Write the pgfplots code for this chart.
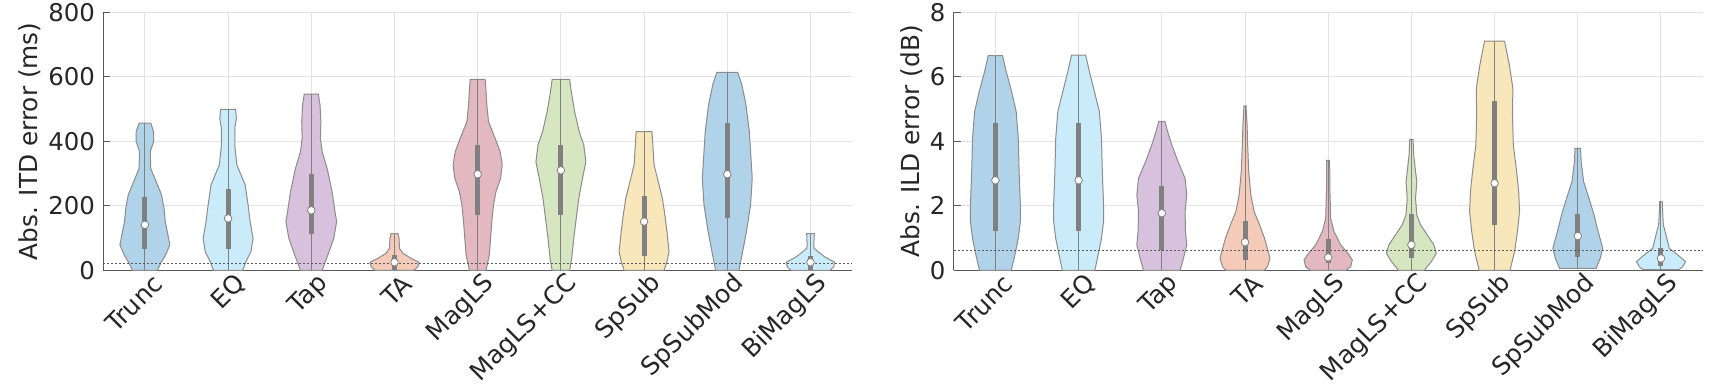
\documentclass[border=0pt]{standalone}
\usepackage{fontspec}
\setmainfont{DejaVu Sans}
\usepackage{pgfplots}
\usepackage{pgfplotstable}
\pgfplotsset{compat=1.18}

\definecolor{cBlue}{HTML}{B1D3EA}
\definecolor{cCyan}{HTML}{C9EBFA}
\definecolor{cPurple}{HTML}{D8C1DD}
\definecolor{cOrange}{HTML}{F4CAB8}
\definecolor{cRed}{HTML}{E3B8C1}
\definecolor{cGreen}{HTML}{D6E6C1}
\definecolor{cYellow}{HTML}{F9E7BC}
\definecolor{vedge}{HTML}{8C8C8C}
\definecolor{bgray}{HTML}{808080}
\definecolor{axgray}{HTML}{5A5A5A}
\definecolor{txt}{HTML}{262626}
\definecolor{gridc}{HTML}{E3E3E3}

% ---------------- ITD violins (y = value, w = half width) ----------------
\pgfplotstableread{
y w
0 0
0 0.15
22 0.19
48 0.25
79 0.30
99 0.285
151 0.245
192 0.23
234 0.20
275 0.135
316 0.07
368 0.065
399 0.105
430 0.105
456 0.07
456 0
}\iA
\pgfplotstableread{
y w
0 0
0 0.175
27 0.215
58 0.275
99 0.30
151 0.265
203 0.24
265 0.205
327 0.105
389 0.08
440 0.08
471 0.10
499 0.09
499 0
}\iB
\pgfplotstableread{
y w
0 0
0 0.13
48 0.20
99 0.27
151 0.305
182 0.285
244 0.25
316 0.19
368 0.13
409 0.11
461 0.115
513 0.105
546 0.085
546 0
}\iC
\pgfplotstableread{
y w
0 0
0 0.235
11 0.28
25 0.295
37 0.20
53 0.10
68 0.06
99 0.055
114 0.04
114 0
}\iD
\pgfplotstableread{
y w
0 0
0 0.10
48 0.14
99 0.155
151 0.17
203 0.19
244 0.22
285 0.275
327 0.295
368 0.27
409 0.21
461 0.13
512 0.11
557 0.10
592 0.09
592 0
}\iE
\pgfplotstableread{
y w
0 0
0 0.105
37 0.13
99 0.155
161 0.185
223 0.215
285 0.26
337 0.30
389 0.275
430 0.22
492 0.165
554 0.125
592 0.105
592 0
}\iF
\pgfplotstableread{
y w
0 0
0 0.24
27 0.275
58 0.30
120 0.275
172 0.25
223 0.22
275 0.17
327 0.12
389 0.105
430 0.095
430 0
}\iG
\pgfplotstableread{
y w
0 0
0 0.14
58 0.185
120 0.23
203 0.28
285 0.30
347 0.285
430 0.265
513 0.225
575 0.175
614 0.125
614 0
}\iH
\pgfplotstableread{
y w
0 0
0 0.235
11 0.28
25 0.29
42 0.17
58 0.09
68 0.045
79 0.04
114 0.046
114 0
}\iI

% ---------------- ILD violins ----------------
\pgfplotstableread{
y w
0 0
0 0.19
0.48 0.235
0.99 0.275
1.51 0.30
2.03 0.30
3.06 0.285
4.09 0.275
4.92 0.25
5.54 0.195
6.16 0.13
6.66 0.086
6.66 0
}\dA
\pgfplotstableread{
y w
0 0
0 0.195
0.48 0.235
0.99 0.275
1.51 0.30
2.03 0.30
3.06 0.285
4.09 0.275
4.92 0.25
5.54 0.19
6.16 0.13
6.67 0.085
6.67 0
}\dB
\pgfplotstableread{
y w
0 0
0 0.22
0.37 0.26
0.79 0.30
1.20 0.285
1.82 0.28
2.34 0.30
2.85 0.28
3.37 0.195
3.89 0.12
4.30 0.07
4.62 0.036
4.62 0
}\dC
\pgfplotstableread{
y w
0 0
0 0.23
0.11 0.27
0.37 0.30
0.58 0.28
0.99 0.235
1.41 0.175
1.82 0.11
2.34 0.07
3.06 0.045
3.89 0.032
4.51 0.025
5.10 0.012
5.10 0
}\dD
\pgfplotstableread{
y w
0 0
0 0.215
0.11 0.27
0.32 0.29
0.48 0.25
0.79 0.15
1.20 0.07
1.61 0.03
2.54 0.02
3.41 0.018
3.41 0
}\dE
\pgfplotstableread{
y w
0 0
0 0.155
0.27 0.24
0.53 0.30
0.79 0.27
1.10 0.19
1.41 0.11
1.72 0.065
2.23 0.05
2.75 0.065
3.06 0.05
3.58 0.028
4.06 0.02
4.06 0
}\dF
\pgfplotstableread{
y w
0 0
0 0.185
0.58 0.24
1.20 0.275
1.82 0.30
2.44 0.29
3.06 0.265
3.89 0.225
4.82 0.215
5.64 0.22
6.37 0.177
7.11 0.12
7.11 0
}\dG
\pgfplotstableread{
y w
0.06 0
0.06 0.22
0.37 0.27
0.68 0.30
1.20 0.245
1.72 0.195
2.23 0.135
2.75 0.07
3.37 0.04
3.78 0.034
3.78 0
}\dH
\pgfplotstableread{
y w
0.02 0
0.02 0.215
0.11 0.26
0.27 0.295
0.48 0.20
0.68 0.10
1.10 0.06
1.41 0.028
1.82 0.02
2.13 0.015
2.13 0
}\dI

% violin: position, colour, table
\newcommand{\violin}[3]{%
  \addplot[fill=#2, draw=vedge, line width=0.5pt] table[x expr=#1+\thisrow{w}, y=y] {#3};
  \addplot[fill=#2, draw=vedge, line width=0.5pt] table[x expr=#1-\thisrow{w}, y=y] {#3};
}
% stats: position, min, max, q1, q3, median
\newcommand{\vstats}[6]{%
  \addplot[draw=bgray, line width=0.5pt] coordinates {(#1,#2) (#1,#3)};
  \addplot[draw=bgray, line width=2.5pt] coordinates {(#1,#4) (#1,#5)};
  \addplot[only marks, mark=*, mark size=1.9pt, mark options={fill=white, draw=bgray, line width=0.4pt}] coordinates {(#1,#6)};
}

\pgfplotsset{
  vstyle/.style={
    scale only axis, width=374.4pt, height=129pt,
    xmin=0.5, xmax=9.5, ymin=0,
    axis lines*=left,
    axis line style={draw=axgray, line width=0.6pt},
    xtick={1,...,9},
    xticklabels={Trunc,EQ,Tap,TA,MagLS,MagLS+CC,SpSub,SpSubMod,BiMagLS},
    xmajorgrids, ymajorgrids,
    grid style={draw=gridc, line width=0.5pt},
    major x tick style={draw=none},
    major y tick style={draw=axgray, line width=0.6pt},
    tickpos=left, tick align=inside, major tick length=3.5pt,
    tick label style={font=\fontsize{12.2}{14}\selectfont, text=txt},
    xticklabel style={font=\fontsize{12.5}{14}\selectfont, xshift=6.5pt, yshift=-4.5pt, rotate=45, anchor=east, inner sep=0pt},
    yticklabel style={inner sep=0pt, xshift=-4pt},
    /pgf/number format/assume math mode=true,
    label style={font=\fontsize{12.4}{14}\selectfont, text=txt},
    clip=false,
  }
}

\begin{document}
\begin{tikzpicture}
\path[use as bounding box] (0,0) rectangle (859.5pt,193pt);

\begin{axis}[vstyle, at={(51.65pt,57.85pt)}, anchor=south west,
  ymax=800, ytick={0,200,400,600,800},
  ylabel={Abs. ITD error (ms)}]
\violin{1}{cBlue}{\iA}
\violin{2}{cCyan}{\iB}
\violin{3}{cPurple}{\iC}
\violin{4}{cOrange}{\iD}
\violin{5}{cRed}{\iE}
\violin{6}{cGreen}{\iF}
\violin{7}{cYellow}{\iG}
\violin{8}{cBlue}{\iH}
\violin{9}{cCyan}{\iI}
\vstats{1}{0}{456}{67}{228}{141}
\vstats{2}{0}{499}{67}{252}{161}
\vstats{3}{0}{546}{114}{298}{186}
\vstats{4}{0}{114}{0}{47}{25}
\vstats{5}{0}{592}{170}{388}{298}
\vstats{6}{0}{592}{170}{388}{310}
\vstats{7}{0}{430}{45}{229}{151}
\vstats{8}{0}{614}{161}{456}{298}
\vstats{9}{0}{114}{0}{45}{25}
\addplot[draw=axgray, line width=0.5pt, dash pattern=on 1pt off 1pt] coordinates {(0.5,20) (9.5,20)};
\end{axis}

\begin{axis}[vstyle, at={(476.9pt,57.85pt)}, anchor=south west,
  ymax=8, ytick={0,2,4,6,8},
  ylabel={Abs. ILD error (dB)}]
\violin{1}{cBlue}{\dA}
\violin{2}{cCyan}{\dB}
\violin{3}{cPurple}{\dC}
\violin{4}{cOrange}{\dD}
\violin{5}{cRed}{\dE}
\violin{6}{cGreen}{\dF}
\violin{7}{cYellow}{\dG}
\violin{8}{cBlue}{\dH}
\violin{9}{cCyan}{\dI}
\vstats{1}{0}{6.66}{1.22}{4.58}{2.79}
\vstats{2}{0}{6.67}{1.22}{4.58}{2.79}
\vstats{3}{0}{4.62}{0.62}{2.60}{1.77}
\vstats{4}{0}{5.10}{0.32}{1.53}{0.87}
\vstats{5}{0}{3.41}{0.24}{0.96}{0.40}
\vstats{6}{0}{4.06}{0.39}{1.74}{0.79}
\vstats{7}{0}{7.11}{1.39}{5.24}{2.70}
\vstats{8}{0.06}{3.78}{0.42}{1.74}{1.06}
\vstats{9}{0.02}{2.13}{0.14}{0.68}{0.37}
\addplot[draw=axgray, line width=0.5pt, dash pattern=on 1pt off 1pt] coordinates {(0.5,0.6) (9.5,0.6)};
\end{axis}
\end{tikzpicture}
\end{document}
